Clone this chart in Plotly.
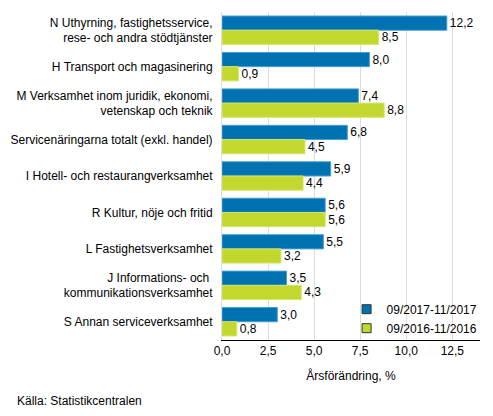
import plotly.graph_objects as go

categories = [
    "N Uthyrning, fastighetsservice,<br>rese- och andra stödtjänster",
    "H Transport och magasinering",
    "M Verksamhet inom juridik, ekonomi,<br>vetenskap och teknik",
    "Servicenäringarna totalt (exkl. handel)",
    "I Hotell- och restaurangverksamhet",
    "R Kultur, nöje och fritid",
    "L Fastighetsverksamhet",
    "J Informations- och <br>kommunikationsverksamhet",
    "S Annan serviceverksamhet",
]
series_2017 = [12.2, 8.0, 7.4, 6.8, 5.9, 5.6, 5.5, 3.5, 3.0]
series_2016 = [8.5, 0.9, 8.8, 4.5, 4.4, 5.6, 3.2, 4.3, 0.8]
names = ["09/2017-11/2017", "09/2016-11/2016"]
tick_vals = [0, 2.5, 5, 7.5, 10, 12.5]

blue = "#0072b2"
green = "#c3d82e"

fig = go.Figure()
fig.add_trace(go.Bar(
    y=categories, x=series_2017, name=names[0], orientation="h",
    marker=dict(color=blue, line=dict(color="#4a9fd0", width=1)),
    texttemplate="%{x:.1f}", textposition="outside",
    textfont=dict(size=12, color="#000000"), cliponaxis=False,
    showlegend=False,
))
fig.add_trace(go.Bar(
    y=categories, x=series_2016, name=names[1], orientation="h",
    marker=dict(color=green, line=dict(color="#d6e66a", width=1)),
    texttemplate="%{x:.1f}", textposition="outside",
    textfont=dict(size=12, color="#000000"), cliponaxis=False,
    showlegend=False,
))
# legend entries with small square markers
for name, col in zip(names, [blue, green]):
    fig.add_trace(go.Scatter(
        x=[None], y=[None], mode="markers", name=name,
        marker=dict(symbol="square", size=9, color=col,
                    line=dict(color="#333333", width=1)),
    ))

fig.update_layout(
    width=493, height=416,
    margin=dict(l=222, r=10, t=12, b=76),
    barmode="group", bargap=0.22, bargroupgap=0,
    separators=", ",
    paper_bgcolor="white", plot_bgcolor="white",
    font=dict(family="Liberation Sans, Arial, sans-serif", size=12, color="#000000"),
    showlegend=True,
    legend=dict(x=1.01, y=0.065, xanchor="right", yanchor="middle",
                bgcolor="rgba(255,255,255,0)", font=dict(size=12),
                traceorder="normal", itemwidth=30, tracegroupgap=0),
    xaxis=dict(
        range=[0, 14], tickvals=tick_vals, tickformat=".1f",
        showgrid=True, gridcolor="#dcdcdc", gridwidth=1,
        zeroline=False, showline=True, linecolor="#000000", linewidth=1,
        ticks="", ticklen=0, automargin=False,
        title=dict(text="Årsförändring, %", font=dict(size=12), standoff=14),
    ),
    yaxis=dict(
        autorange="reversed", showgrid=False, zeroline=False,
        showline=True, linecolor="#dcdcdc", ticks="", ticklabelstandoff=6,
        automargin=False,
    ),
    annotations=[dict(
        text="Källa: Statistikcentralen", xref="paper", yref="paper",
        x=-209 / 261, y=-61 / 328, xanchor="left", yanchor="middle",
        showarrow=False, font=dict(size=12),
    )],
)

fig.write_html("out.html", config={"displayModeBar": False},
               post_script="document.body.style.margin = '0';")
